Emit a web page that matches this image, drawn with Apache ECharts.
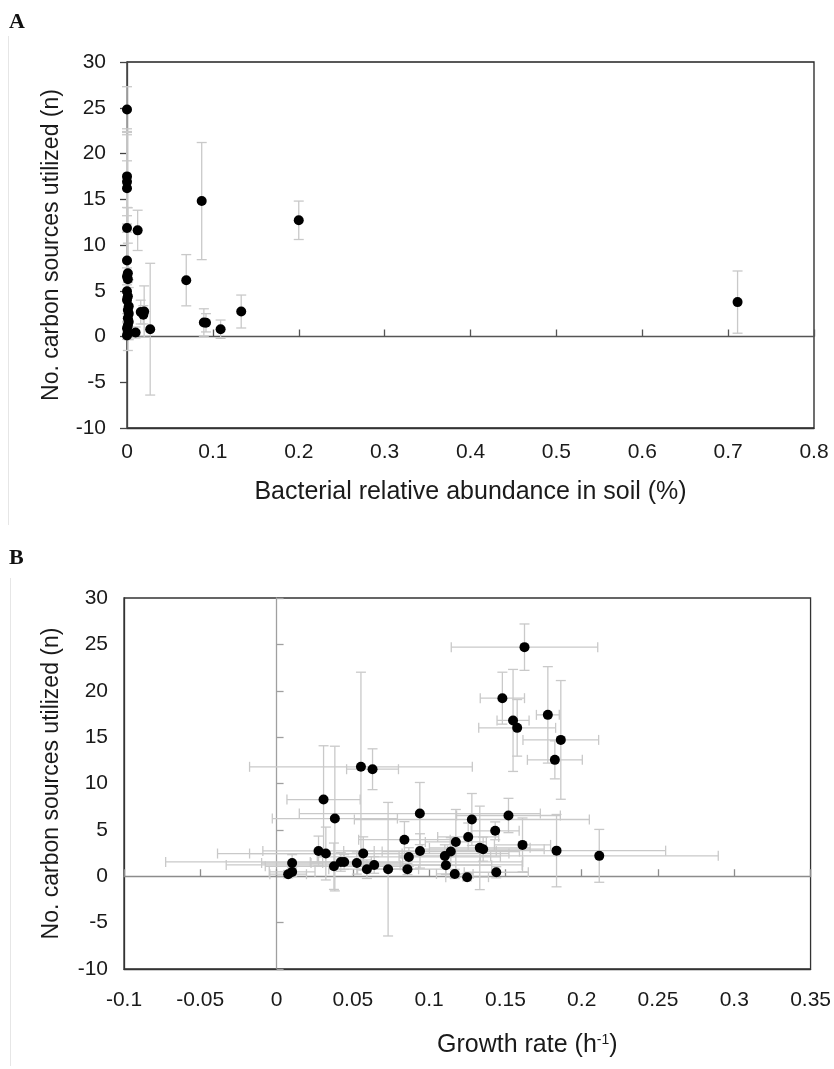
<!DOCTYPE html>
<html>
<head>
<meta charset="utf-8">
<script src="https://cdn.jsdelivr.net/npm/echarts@6/dist/echarts.min.js"></script>
<style>
  html, body { margin: 0; padding: 0; background: #fff; }
  #chart { width: 834px; height: 1069px; }
</style>
</head>
<body>
<div id="chart"></div>
<script>
// panel A: abundance in soil (%) vs no. carbon sources
var aAbund = [0, 0, 0, 0, 0, 0.0124, 0, 0.001, 0, 0.001, 0, 0.001, 0, 0.002, 0.001, 0.002, 0.001, 0.002,
    0.001, 0, 0.001, 0, 0.010, 0.016, 0.020, 0.019, 0.027, 0.069, 0.0895, 0.092, 0.109, 0.133, 0.087, 0.2, 0.711];
var aCarbon = [24.8, 17.5, 16.9, 16.2, 11.85, 11.6, 8.3, 6.9, 6.55, 6.27, 4.95, 4.4, 4.0, 3.3, 2.9, 2.5, 2.0, 1.6,
    1.2, 0.9, 0.4, 0.1, 0.44, 2.67, 2.73, 2.37, 0.8, 6.15, 1.53, 1.5, 0.8, 2.73, 14.8, 12.7, 3.76];
var aCarbonErr = [2.5, 5.2, 5.5, 3.0, 10.2, 2.2, 5.8, 3.3, 1.8, 7.8, 0.7, 1.5, 3.5, 2.9, 1.3, 2.85, 1.0, 1.0,
    1.0, 0.6, 0.5, 0.4, 0.6, 1.3, 2.8, 1.0, 7.2, 2.8, 1.5, 1.0, 1.0, 1.8, 6.4, 2.1, 3.4];

// panel B: growth rate (h-1) vs no. carbon sources
var bGrowth = [0.1625, 0.148, 0.155, 0.1577, 0.1778, 0.1863, 0.1824, 0.0553, 0.0629,
    0.0308, 0.0382, 0.0939, 0.128, 0.152, 0.1433, 0.1256, 0.1175, 0.0838, 0.1332, 0.1354, 0.1612, 0.1835, 0.2115,
    0.0275, 0.0323, 0.0102, 0.0102, 0.0076, 0.0376, 0.0421, 0.0443, 0.0526, 0.0568, 0.0592, 0.064, 0.0731,
    0.0858, 0.0867, 0.094, 0.1103, 0.1142, 0.111, 0.1168, 0.1249, 0.144];
var bGrowthErr = [0.048, 0.0145, 0.0105, 0.0252, 0.0075, 0.0248, 0.018, 0.073, 0.017,
    0.024, 0.041, 0.079, 0.077, 0.034, 0.0157, 0.02, 0.02, 0.03, 0.033, 0.04, 0.0184, 0.0715, 0.078,
    0.0365, 0.05, 0.02, 0.015, 0.012, 0.045, 0.02, 0.117, 0.03, 0.0955, 0.025, 0.097, 0.02,
    0.025, 0.06, 0.05, 0.03, 0.045, 0.03, 0.012, 0.014, 0.021];
var bCarbon = [24.7, 19.2, 16.8, 16.0, 17.4, 14.7, 12.55, 11.8, 11.54,
    8.27, 6.22, 6.76, 6.12, 6.55, 4.9, 4.24, 3.7, 3.94, 3.06, 2.92, 3.38, 2.76, 2.2,
    2.73, 2.45, 1.43, 0.47, 0.22, 1.08, 1.54, 1.54, 1.43, 2.45, 0.76, 1.22, 0.76,
    0.76, 2.08, 2.73, 2.19, 2.66, 1.19, 0.25, -0.1, 0.43];
var bCarbonErr = [2.5, 2.8, 5.5, 3.05, 5.2, 6.4, 2.05, 10.2, 2.2,
    5.8, 7.8, 3.35, 2.8, 1.85, 0.96, 1.5, 3.5, 1.95, 4.5, 1.3, 2.9, 3.9, 2.85,
    1.6, 2.85, 0.9, 0.5, 0.4, 2.5, 1.0, 0.8, 1.2, 1.8, 1.0, 0.9, 7.2,
    0.6, 1.0, 1.85, 1.2, 1.5, 1.0, 0.5, 0.4, 0.6];

var yTicks = { min: -10, max: 30, interval: 5 };
var aTicks = { min: 0, max: 0.8, interval: 0.1 };
var bTicks = { min: -0.1, max: 0.35, interval: 0.05 };

var tickFont = '"Liberation Sans", Arial, sans-serif';
var titleFont = '"Liberation Sans", Arial, sans-serif';
var tickSize = 21;
var barColor = '#c9c9c9';

function buildData(xs, ys, xe, ye) {
    var out = [];
    for (var i = 0; i < xs.length; i++) {
        out.push([xs[i], ys[i], xe ? xe[i] : 0, ye[i]]);
    }
    return out;
}

// error bars with caps, drawn through the axis scales
function renderErr(params, api) {
    var x = api.value(0), y = api.value(1), ex = api.value(2), ey = api.value(3);
    var cap = 5;
    var style = { stroke: barColor, lineWidth: 1.3 };
    var kids = [];
    if (ey) {
        var t = api.coord([x, y + ey]), b = api.coord([x, y - ey]);
        kids.push({ type: 'line', shape: { x1: t[0], y1: t[1], x2: b[0], y2: b[1] }, style: style });
        kids.push({ type: 'line', shape: { x1: t[0] - cap, y1: t[1], x2: t[0] + cap, y2: t[1] }, style: style });
        kids.push({ type: 'line', shape: { x1: b[0] - cap, y1: b[1], x2: b[0] + cap, y2: b[1] }, style: style });
    }
    if (ex) {
        var l = api.coord([x - ex, y]), r = api.coord([x + ex, y]);
        kids.push({ type: 'line', shape: { x1: l[0], y1: l[1], x2: r[0], y2: r[1] }, style: style });
        kids.push({ type: 'line', shape: { x1: l[0], y1: l[1] - cap, x2: l[0], y2: l[1] + cap }, style: style });
        kids.push({ type: 'line', shape: { x1: r[0], y1: r[1] - cap, x2: r[0], y2: r[1] + cap }, style: style });
    }
    return { type: 'group', children: kids };
}

function labelAxis(grid, ticks, extra) {
    var ax = {
        gridIndex: grid, type: 'value', min: ticks.min, max: ticks.max, interval: ticks.interval,
        axisLine: { onZero: false, lineStyle: { color: '#333', width: 1.3 } },
        axisTick: { show: false },
        splitLine: { show: false },
        axisLabel: { color: '#1a1a1a', fontSize: tickSize, fontFamily: tickFont }
    };
    for (var k in extra) ax[k] = extra[k];
    return ax;
}

function zeroAxis(grid, ticks, color) {
    return {
        gridIndex: grid, type: 'value', min: ticks.min, max: ticks.max, interval: ticks.interval,
        axisLine: { onZero: true, lineStyle: { color: color, width: 1.3 } },
        axisTick: { show: true, length: 7, lineStyle: { color: color, width: 1.3 } },
        axisLabel: { show: false },
        splitLine: { show: false }
    };
}

var chart = echarts.init(document.getElementById('chart'));

var yName = 'No. carbon sources utilized (n)';

var option = {
    animation: false,
    backgroundColor: '#fff',
    grid: [
        { left: 127, top: 62, width: 687, height: 366, show: true, borderColor: '#222', borderWidth: 1.3 },
        { left: 124, top: 598, width: 687, height: 371, show: true, borderColor: '#333', borderWidth: 1.3 }
    ],
    xAxis: [
        labelAxis(0, aTicks, {
            position: 'bottom',
            name: 'Bacterial relative abundance in soil (%)',
            nameLocation: 'middle', nameGap: 52,
            nameTextStyle: { color: '#1a1a1a', fontSize: 25, fontFamily: titleFont },
            axisLabel: { color: '#1a1a1a', fontSize: tickSize, fontFamily: tickFont, margin: 14 }
        }),
        zeroAxis(0, aTicks, '#555'),
        labelAxis(1, bTicks, {
            position: 'bottom',
            name: 'Growth rate (h{sup|-1})',
            nameLocation: 'middle', nameGap: 64,
            nameTextStyle: {
                color: '#1a1a1a', fontSize: 25, fontFamily: titleFont, padding: [0, 0, 0, 120],
                rich: { sup: { fontSize: 14, fontFamily: titleFont, color: '#1a1a1a', verticalAlign: 'top', padding: [0, 0, 10, 0] } }
            },
            axisLabel: { color: '#1a1a1a', fontSize: tickSize, fontFamily: tickFont, margin: 21 }
        }),
        zeroAxis(1, bTicks, '#8c8c8c')
    ],
    yAxis: [
        {
            gridIndex: 0, type: 'value', min: yTicks.min, max: yTicks.max, interval: yTicks.interval,
            position: 'left',
            axisLine: { onZero: false, lineStyle: { color: '#444', width: 1.3 } },
            axisTick: { show: true, length: 7, lineStyle: { color: '#444', width: 1.3 } },
            splitLine: { show: false },
            axisLabel: { color: '#1a1a1a', fontSize: tickSize, fontFamily: tickFont, margin: 21 },
            name: yName, nameLocation: 'middle', nameGap: 64,
            nameTextStyle: { color: '#1a1a1a', fontSize: 23, fontFamily: titleFont }
        },
        labelAxis(1, yTicks, {
            position: 'left',
            name: yName, nameLocation: 'middle', nameGap: 61,
            nameTextStyle: { color: '#1a1a1a', fontSize: 23, fontFamily: titleFont },
            axisLabel: { color: '#1a1a1a', fontSize: tickSize, fontFamily: tickFont, margin: 16 }
        }),
        zeroAxis(1, yTicks, '#a0a0a0')
    ],
    graphic: [
        { type: 'text', left: 9, top: 11, style: { text: 'A', font: 'bold 22px "Liberation Serif", serif', fill: '#111' } },
        { type: 'text', left: 9, top: 547, style: { text: 'B', font: 'bold 22px "Liberation Serif", serif', fill: '#111' } },
        { type: 'line', shape: { x1: 8.5, y1: 36, x2: 8.5, y2: 525 }, style: { stroke: '#e6e6e6', lineWidth: 1 } },
        { type: 'line', shape: { x1: 10.5, y1: 578, x2: 10.5, y2: 1066 }, style: { stroke: '#e6e6e6', lineWidth: 1 } }
    ],
    series: [
        {
            type: 'custom', xAxisIndex: 0, yAxisIndex: 0,
            data: buildData(aAbund, aCarbon, null, aCarbonErr),
            encode: { x: 0, y: 1 },
            renderItem: renderErr, z: 3
        },
        {
            type: 'scatter', xAxisIndex: 0, yAxisIndex: 0,
            data: buildData(aAbund, aCarbon, null, aCarbonErr),
            symbolSize: 10, itemStyle: { color: '#000', opacity: 1 }, z: 4
        },
        {
            type: 'custom', xAxisIndex: 2, yAxisIndex: 1,
            data: buildData(bGrowth, bCarbon, bGrowthErr, bCarbonErr),
            encode: { x: 0, y: 1 },
            renderItem: renderErr, z: 3
        },
        {
            type: 'scatter', xAxisIndex: 2, yAxisIndex: 1,
            data: buildData(bGrowth, bCarbon, bGrowthErr, bCarbonErr),
            symbolSize: 10, itemStyle: { color: '#000', opacity: 1 }, z: 4
        }
    ]
};

chart.setOption(option);
</script>
</body>
</html>
